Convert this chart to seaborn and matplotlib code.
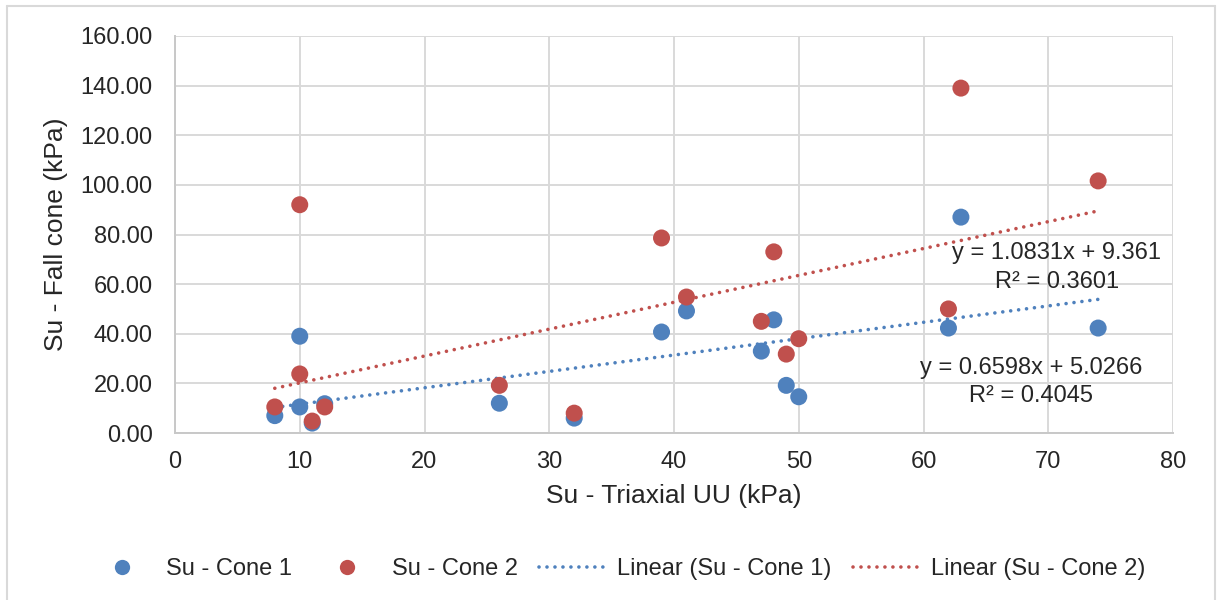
import numpy as np
import pandas as pd
import matplotlib
matplotlib.use("Agg")
import matplotlib.pyplot as plt
from matplotlib.lines import Line2D
import seaborn as sns

# Triaxial UU undrained shear strength (kPa)
su_triaxial = [8, 10, 10, 11, 12, 26, 32, 39, 41, 47, 48, 49, 50, 62, 63, 74]
# Fall cone undrained shear strength (kPa)
su_cone1 = [7.0, 39.0, 10.5, 4.0, 11.8, 12.0, 6.0, 40.7, 49.2, 33.0, 45.6, 19.2, 14.6, 42.3, 87.0, 42.3]
su_cone2 = [10.5, 92.0, 23.8, 4.8, 10.5, 19.2, 8.0, 78.6, 54.8, 45.0, 73.0, 31.8, 38.0, 50.0, 139.0, 101.6]

# Linear trendline coefficients (slope, intercept, R²)
fit_cone1 = (0.6598, 5.0266, 0.4045)
fit_cone2 = (1.0831, 9.361, 0.3601)

blue = "#4F81BD"
red = "#C0504D"
ink = "#262626"
W, H = 1217, 600

sns.set_theme(style="whitegrid")
plt.rcParams["font.family"] = ["Liberation Sans", "DejaVu Sans"]

fig = plt.figure(figsize=(W / 100, H / 100), dpi=100)
ax = fig.add_axes([175 / W, 1 - 433 / H, (1173 - 175) / W, (433 - 36) / H])

df = pd.DataFrame({
    "x": su_triaxial * 2,
    "y": su_cone1 + su_cone2,
    "series": ["Su - Cone 1"] * len(su_triaxial) + ["Su - Cone 2"] * len(su_triaxial),
})
sns.scatterplot(data=df, x="x", y="y", hue="series", palette=[blue, red],
                s=150, edgecolor="none", ax=ax, legend=False, zorder=3)

dot_style = dict(lw=2.6, linestyle=(0, (0.01, 2.2)), dash_capstyle="round")
xs = np.array([min(su_triaxial), max(su_triaxial)], dtype=float)
for (m, b, r2), col in [(fit_cone1, blue), (fit_cone2, red)]:
    sns.lineplot(x=xs, y=m * xs + b, color=col, ax=ax, zorder=2, **dot_style)

def eq_label(cx, cy, s):
    fig.text(cx / W, 1 - cy / H, s, ha="center", va="center", fontsize=17, color=ink)

eq_label(1057, 253, f"y = {fit_cone2[0]:.4f}x + {fit_cone2[1]:.3f}")
eq_label(1057, 282, f"R² = {fit_cone2[2]:.4f}")
eq_label(1031, 368, f"y = {fit_cone1[0]:.4f}x + {fit_cone1[1]:.4f}")
eq_label(1031, 396, f"R² = {fit_cone1[2]:.4f}")

ax.set_xlim(0, 80)
ax.set_ylim(0, 160)
ax.set_xticks(range(0, 81, 10))
ax.set_yticks(range(0, 161, 20))
ax.set_yticklabels([f"{v:.2f}" for v in range(0, 161, 20)])
ax.tick_params(axis="both", labelsize=17, labelcolor=ink, length=0)
ax.tick_params(axis="y", pad=16)
ax.tick_params(axis="x", pad=13)
ax.grid(True, color="#d9d9d9", lw=1.4)
for side in ["top", "right"]:
    ax.spines[side].set_visible(False)
for side in ["left", "bottom"]:
    ax.spines[side].set_color("#c8c8c8")
    ax.spines[side].set_linewidth(1.4)

ax.set_xlabel("Su - Triaxial UU (kPa)", fontsize=19, color=ink, labelpad=8)
ax.set_ylabel("Su - Fall cone (kPa)", fontsize=19, color=ink, labelpad=9)

handles = [
    Line2D([], [], ls="none", marker="o", ms=11, color=blue, mec="none"),
    Line2D([], [], ls="none", marker="o", ms=11, color=red, mec="none"),
    Line2D([], [], color=blue, **dot_style),
    Line2D([], [], color=red, **dot_style),
]
labels = ["Su - Cone 1", "Su - Cone 2", "Linear (Su - Cone 1)", "Linear (Su - Cone 2)"]
leg = fig.legend(handles, labels, loc="center", bbox_to_anchor=(616.5 / W, 1 - 569 / H),
                 ncol=4, frameon=False, fontsize=17, handlelength=2.9,
                 columnspacing=0.9, handletextpad=0.42)
for t in leg.get_texts():
    t.set_color(ink)

# chart-area border (left, top, right)
border = dict(color="#d9d9d9", lw=1.5, transform=fig.transFigure)
fig.add_artist(Line2D([7 / W, 7 / W], [0, 1 - 6 / H], **border))
fig.add_artist(Line2D([7 / W, 1215 / W], [1 - 6 / H, 1 - 6 / H], **border))
fig.add_artist(Line2D([1215 / W, 1215 / W], [0, 1 - 6 / H], **border))

fig.savefig("out.png", dpi=100)
